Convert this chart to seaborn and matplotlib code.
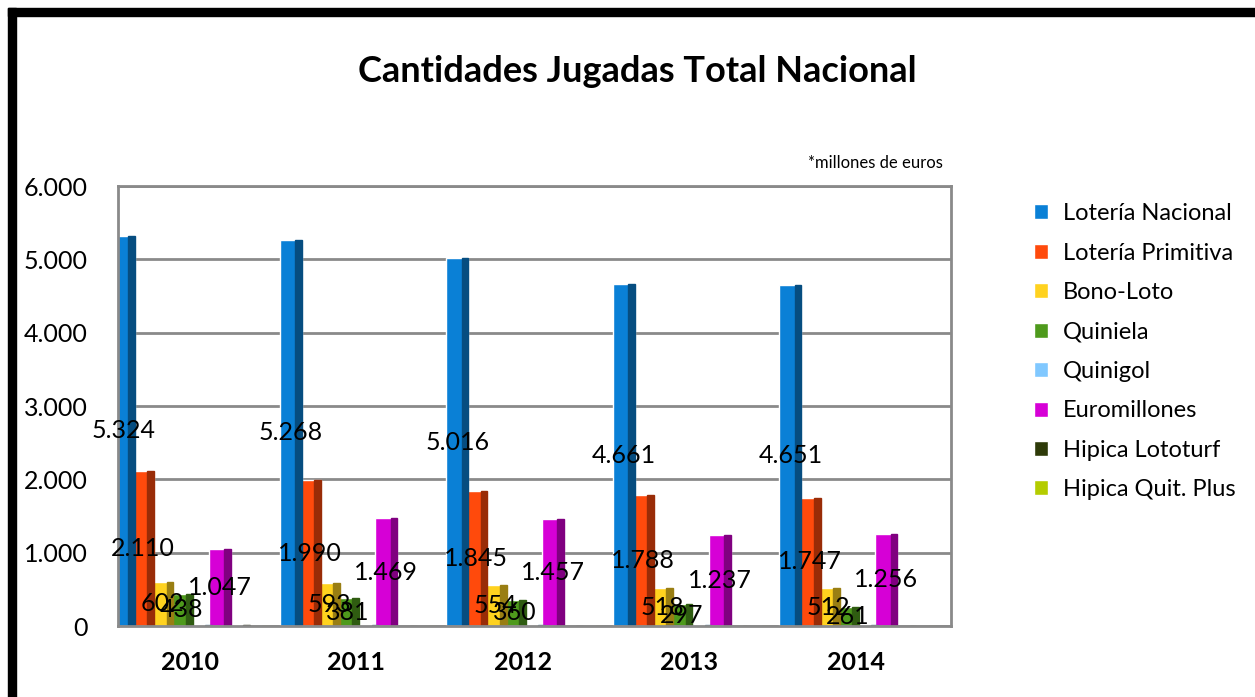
import numpy as np
import pandas as pd
import seaborn as sns
from matplotlib import pyplot as plt
from matplotlib.patches import Rectangle

# datos (millones de euros)
anios = ['2010', '2011', '2012', '2013', '2014']
juegos = ['Lotería Nacional', 'Lotería Primitiva', 'Bono-Loto', 'Quiniela',
          'Quinigol', 'Euromillones', 'Hipica Lototurf', 'Hipica Quit. Plus']
nacional = [5324, 5268, 5016, 4661, 4651]
primitiva = [2110, 1990, 1845, 1788, 1747]
bonoloto = [602, 593, 554, 518, 512]
quiniela = [438, 381, 360, 297, 261]
quinigol = [12, 10, 9, 8, 7]
euromillones = [1047, 1469, 1457, 1237, 1256]
lototurf = [8, 6, 5, 5, 4]
quitplus = [4, 3, 3, 2, 2]
colores = ['#0A80D6', '#FF4A0C', '#FFD21F', '#4E9A1C',
           '#80C8FF', '#D600D6', '#2E3A08', '#B4CC00']
con_etiqueta = ['Lotería Nacional', 'Lotería Primitiva', 'Bono-Loto',
                'Quiniela', 'Euromillones']

series = [nacional, primitiva, bonoloto, quiniela, quinigol,
          euromillones, lototurf, quitplus]
df = pd.DataFrame([(a, j, v[i]) for j, v in zip(juegos, series)
                   for i, a in enumerate(anios)],
                  columns=['anio', 'juego', 'valor'])

sns.set_style('white')
plt.rcParams['font.family'] = ['Lato', 'DejaVu Sans']
plt.rcParams['text.color'] = 'black'
plt.rcParams['xtick.color'] = 'black'
plt.rcParams['ytick.color'] = 'black'

fig = plt.figure(figsize=(12.55, 6.97), dpi=100)
W, H = 1255, 697
ax = fig.add_axes([118 / W, 1 - 626 / H, (951 - 118) / W, (626 - 186) / H])

sns.barplot(data=df, x='anio', y='valor', hue='juego', hue_order=juegos,
            palette=colores, saturation=1, width=0.92, ax=ax)
handles, labels = ax.get_legend_handles_labels()
ax.get_legend().remove()

# barras un poco mas anchas, con cara lateral oscura (aspecto 3D)
for cont in ax.containers:
    for p in cont:
        w = p.get_width()
        p.set_width(w * 1.15)
        c = np.array(p.get_facecolor()[:3]) * 0.6
        ax.add_patch(Rectangle((p.get_x() + w * 0.8, 0), w * 0.35,
                               p.get_height(), color=c, zorder=p.get_zorder()))

# etiquetas en el centro de cada barra
for cont, nombre in zip(ax.containers, juegos):
    if nombre not in con_etiqueta:
        continue
    for p in cont:
        h = p.get_height()
        ax.text(p.get_x() + p.get_width() / 2, h / 2,
                f'{h:,.0f}'.replace(',', '.'), ha='center', va='center',
                fontsize=18, color='black', zorder=5)

ax.set_ylim(0, 6000)
ax.set_xlim(-0.43, 4.57)
ax.set_yticks(range(0, 6001, 1000))
ax.set_yticklabels([f'{v:,}'.replace(',', '.') for v in range(0, 6001, 1000)])
ax.yaxis.grid(True, color='#8a8a8a', linewidth=2)
ax.set_axisbelow(True)
for s in ax.spines.values():
    s.set_color('#8a8a8a')
    s.set_linewidth(2)
ax.tick_params(axis='y', length=0, pad=22, labelsize=18)
ax.tick_params(axis='x', length=0, pad=18, labelsize=18)
for t in ax.get_xticklabels():
    t.set_fontweight('bold')
ax.set_xlabel('')
ax.set_ylabel('')

fig.text(0.508, 1 - 72 / H, 'Cantidades Jugadas Total Nacional',
         ha='center', va='center', fontsize=26, fontweight='bold')
fig.text(943 / W, 1 - 163 / H, '*millones de euros', ha='right',
         va='center', fontsize=12)

fig.legend(handles, labels, loc='upper left',
           bbox_to_anchor=(1013 / W, 1 - 182 / H), frameon=False,
           fontsize=17, handlelength=0.6, handleheight=0.6,
           handletextpad=0.6, labelspacing=0.78)

# marco negro
fig.add_artist(Rectangle((8 / W, 0), 8 / W, 1 - 8 / H,
                         transform=fig.transFigure, color='black'))
fig.add_artist(Rectangle((8 / W, 1 - 16 / H), 1 - 8 / W, 8 / H,
                         transform=fig.transFigure, color='black'))

fig.savefig('out.png', dpi=100)
